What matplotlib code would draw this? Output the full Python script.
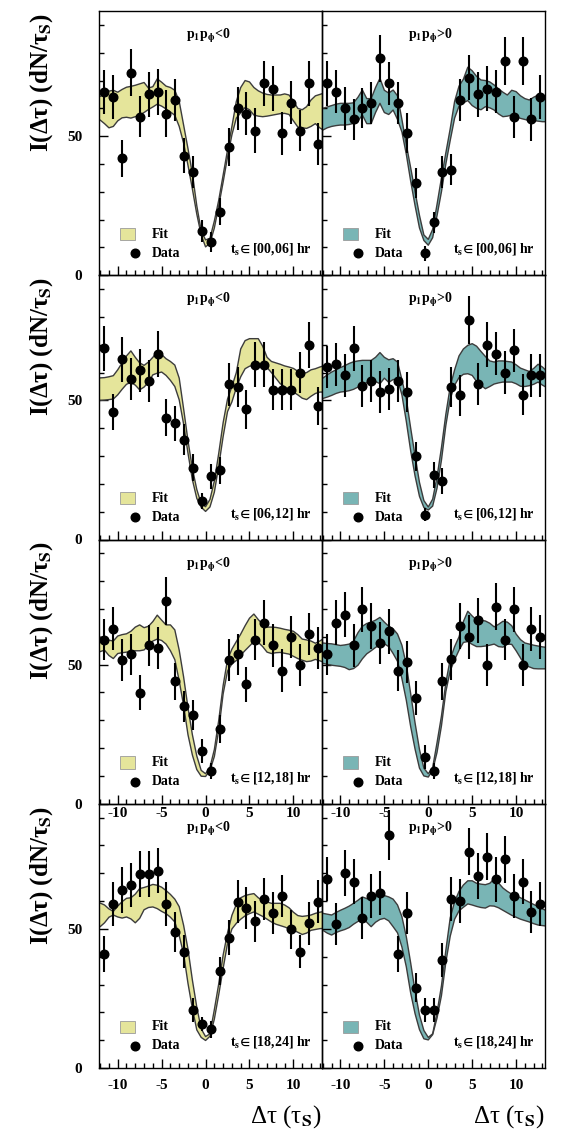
import matplotlib.pyplot as plt
import numpy as np
from matplotlib.patches import Rectangle
from matplotlib.ticker import MultipleLocator

plt.rcParams['font.family'] = ['Liberation Serif', 'DejaVu Serif']
plt.rcParams['font.weight'] = 'bold'
plt.rcParams['mathtext.fontset'] = 'stix'
plt.rcParams['mathtext.default'] = 'bf'
plt.rcParams['axes.unicode_minus'] = False

YELLOW = '#e5e59b'
TEAL = '#79b5b5'
EDGE = '#3c3c3c'

WINDOWS = ['[00,06]', '[06,12]', '[12,18]', '[18,24]']
SIGNS = ['<0', '>0']

# bin centres of the data points
DT = [-11.55, -10.54, -9.52, -8.51, -7.50, -6.49, -5.47, -4.46, -3.45, -2.44,
      -1.42, -0.41, 0.60, 1.61, 2.63, 3.64, 4.65, 5.66, 6.68, 7.69,
      8.70, 9.71, 10.73, 11.74, 12.75]
# abscissa of the fit band, -12.5 .. 13.5 in steps of 0.5
BAND_X = np.arange(-12.5, 13.51, 0.5)

# ---- t_s in [00,06] ----
Y_00_NEG = [66.0, 64.1, 42.0, 72.8, 57.0, 65.0, 66.0, 58.1, 63.0, 43.0, 37.0, 16.0, 12.1,
            22.9, 46.0, 60.0, 58.1, 52.0, 69.0, 67.0, 51.0, 62.0, 52.0, 69.0, 47.1]
E_00_NEG = [7.9, 7.9, 6.5, 8.4, 7.4, 8.1, 8.3, 8.4, 7.6, 6.4, 5.7, 3.9, 3.6,
            4.8, 6.9, 7.7, 7.8, 8.0, 8.1, 8.1, 7.8, 7.7, 7.5, 8.1, 7.5]
UP_00_NEG = [63.8, 64.3, 65.2, 66.2, 66.5, 65.8, 66.8, 67.6, 67.9, 68.3,
             68.8, 69.3, 67.3, 67.8, 70.6, 69.4, 68.0, 67.5, 66.5, 62.5,
             54.0, 45.5, 36.5, 25.0, 16.0, 12.7, 13.3, 19.5, 27.0, 36.0,
             45.0, 53.5, 62.5, 67.5, 70.0, 69.5, 67.5, 66.3, 65.5, 65.0,
             64.8, 64.8, 64.8, 65.2, 64.8, 62.5, 60.0, 59.5, 60.6, 63.0,
             64.5, 65.0, 65.5]
LO_00_NEG = [56.5, 55.8, 54.5, 53.0, 53.5, 55.5, 56.6, 56.8, 56.5, 57.0,
             57.6, 58.5, 59.6, 60.5, 61.5, 60.8, 59.8, 58.7, 57.5, 53.5,
             47.5, 39.5, 31.0, 22.0, 14.5, 10.2, 11.5, 17.0, 25.0, 33.5,
             42.5, 50.5, 56.5, 58.4, 60.3, 59.5, 57.6, 57.2, 57.0, 57.2,
             57.5, 57.8, 58.1, 58.2, 57.8, 55.5, 53.3, 53.0, 52.8, 53.5,
             54.5, 53.0, 52.0]

Y_00_POS = [69.0, 66.0, 60.0, 56.0, 60.0, 62.0, 78.0, 69.0, 62.0, 51.0, 33.0, 7.9, 19.0,
            37.0, 38.0, 63.0, 71.0, 65.0, 67.0, 66.0, 77.0, 57.0, 77.0, 56.0, 64.0]
E_00_POS = [8.1, 7.8, 7.7, 7.5, 7.2, 7.6, 8.5, 7.8, 7.5, 7.2, 5.4, 2.7, 3.9,
            5.7, 5.7, 7.5, 8.1, 8.1, 8.1, 7.8, 8.6, 7.5, 8.6, 7.8, 8.0]
UP_00_POS = [59.8, 60.0, 60.5, 61.0, 61.5, 61.8, 61.8, 61.8, 62.0, 64.0,
             66.6, 63.5, 63.5, 67.5, 70.8, 66.5, 65.5, 66.6, 64.5, 56.0,
             47.0, 38.6, 30.0, 21.5, 14.5, 12.9, 16.5, 25.5, 35.0, 44.0,
             52.7, 62.5, 68.0, 70.5, 74.8, 73.5, 71.5, 70.2, 70.0, 69.5,
             68.4, 67.0, 65.8, 64.8, 66.5, 66.0, 64.5, 63.5, 63.0, 64.0,
             64.8, 64.0, 63.8]
LO_00_POS = [52.0, 52.2, 53.0, 53.5, 53.8, 54.0, 54.0, 54.2, 54.6, 55.5,
             57.6, 54.5, 54.5, 58.5, 61.8, 58.5, 57.8, 59.4, 56.0, 51.5,
             43.5, 33.8, 25.0, 17.0, 12.5, 10.8, 13.5, 21.5, 30.0, 40.0,
             48.5, 56.5, 60.8, 62.0, 62.8, 61.0, 60.0, 59.5, 60.6, 60.2,
             59.4, 58.0, 57.0, 57.2, 57.6, 57.0, 56.4, 56.0, 55.6, 55.6,
             55.4, 55.2, 55.2]

# ---- t_s in [06,12] ----
Y_06_NEG = [68.8, 45.8, 64.8, 57.8, 60.8, 56.9, 66.8, 43.8, 41.8, 35.9, 25.8, 13.8, 22.8,
            24.9, 55.8, 54.8, 46.8, 62.8, 62.8, 53.9, 53.9, 53.9, 60.0, 69.8, 47.9]
E_06_NEG = [8.1, 6.6, 8.1, 7.6, 7.8, 7.5, 8.3, 6.6, 6.3, 5.7, 4.8, 3.0, 4.5,
            4.8, 7.8, 7.2, 6.9, 8.1, 8.1, 7.5, 7.5, 7.5, 7.5, 8.3, 6.9]
UP_06_NEG = [58.0, 58.1, 58.2, 58.5, 58.9, 61.0, 63.5, 66.0, 67.8, 65.5,
             63.5, 62.6, 63.8, 65.5, 67.5, 66.5, 65.0, 64.0, 62.7, 58.0,
             47.0, 35.5, 25.5, 18.0, 12.9, 11.8, 14.4, 21.0, 31.0, 42.0,
             50.5, 55.0, 60.0, 68.5, 71.5, 72.2, 72.2, 72.2, 69.5, 65.5,
             64.0, 63.5, 63.0, 62.4, 62.0, 61.5, 60.5, 59.6, 60.0, 61.0,
             61.4, 62.0, 62.5]
LO_06_NEG = [50.0, 50.0, 50.1, 50.3, 50.5, 52.0, 54.0, 55.8, 56.5, 55.5,
             53.8, 54.8, 56.5, 59.2, 59.8, 60.2, 59.0, 57.2, 55.0, 50.2,
             41.5, 31.0, 21.5, 14.8, 11.6, 10.1, 11.7, 17.0, 26.5, 37.0,
             46.0, 49.5, 54.5, 58.5, 61.4, 62.3, 62.6, 62.6, 62.5, 61.8,
             60.0, 58.0, 56.0, 55.0, 54.0, 53.0, 52.0, 50.8, 50.3, 51.5,
             52.5, 53.0, 53.0]

Y_06_POS = [62.0, 63.0, 59.0, 68.8, 55.1, 57.0, 53.0, 54.0, 57.0, 53.0, 30.0, 8.9, 23.1,
            21.0, 54.8, 51.8, 79.0, 55.8, 70.0, 66.8, 60.0, 68.0, 52.1, 59.0, 59.0]
E_06_POS = [7.5, 7.7, 7.8, 8.1, 7.5, 7.5, 7.5, 7.5, 7.5, 7.2, 5.2, 2.4, 4.6,
            4.8, 7.3, 7.5, 8.7, 7.5, 8.1, 7.8, 7.6, 7.8, 7.5, 7.8, 7.8]
UP_06_POS = [57.0, 58.0, 59.2, 60.2, 61.0, 61.8, 62.5, 63.3, 63.9, 64.2,
             64.4, 64.4, 64.4, 65.5, 67.2, 65.5, 64.6, 65.0, 63.8, 57.5,
             50.5, 40.0, 30.0, 20.5, 14.0, 11.7, 14.5, 22.5, 33.0, 45.0,
             55.0, 61.0, 66.0, 68.5, 69.8, 70.4, 69.5, 67.6, 65.8, 64.2,
             63.8, 64.2, 64.2, 64.0, 63.8, 62.8, 61.6, 61.0, 60.4, 61.5,
             63.0, 62.0, 60.5]
LO_06_POS = [50.2, 50.7, 51.2, 51.8, 52.5, 53.0, 53.2, 53.5, 54.0, 54.8,
             55.6, 56.4, 57.2, 56.8, 56.0, 58.0, 56.5, 57.5, 57.5, 52.0,
             42.5, 31.8, 22.8, 15.5, 11.5, 10.6, 12.0, 18.5, 28.5, 41.0,
             50.5, 55.5, 58.2, 59.4, 59.6, 59.0, 56.8, 55.5, 54.2, 55.0,
             55.9, 56.3, 56.6, 56.6, 56.6, 56.0, 55.1, 55.0, 55.3, 55.8,
             56.6, 55.5, 54.6]

# ---- t_s in [12,18] ----
Y_12_NEG = [59.0, 62.9, 51.8, 53.7, 39.9, 56.9, 56.0, 72.9, 44.0, 35.0, 31.8, 18.9, 11.8,
            26.8, 51.8, 53.7, 42.9, 59.0, 65.0, 56.9, 47.9, 59.9, 50.0, 60.9, 56.0]
E_12_NEG = [7.5, 7.8, 7.5, 7.5, 6.3, 7.5, 7.5, 8.5, 6.6, 5.7, 5.4, 4.4, 2.9,
            5.1, 7.5, 7.5, 6.4, 7.5, 8.1, 7.7, 7.6, 7.6, 7.5, 7.5, 7.5]
UP_12_NEG = [60.0, 59.9, 59.8, 58.8, 58.5, 60.3, 60.8, 61.1, 62.0, 63.5,
             64.3, 63.3, 63.8, 65.5, 67.8, 66.0, 64.3, 64.3, 62.5, 55.2,
             45.6, 34.5, 24.8, 17.2, 12.0, 10.8, 13.1, 19.5, 30.0, 42.5,
             51.8, 55.6, 58.3, 61.0, 64.0, 66.7, 68.2, 66.2, 64.5, 63.5,
             63.5, 63.4, 63.1, 62.7, 62.4, 62.0, 60.8, 59.2, 58.9, 58.5,
             57.7, 58.5, 59.5]
LO_12_NEG = [54.5, 54.7, 55.2, 53.3, 52.2, 54.0, 54.3, 54.5, 54.7, 55.0,
             55.0, 55.3, 56.9, 58.5, 59.2, 58.7, 57.4, 55.0, 51.8, 44.2,
             35.3, 24.8, 17.5, 12.3, 9.9, 9.8, 12.0, 17.0, 26.5, 39.5,
             47.7, 50.3, 51.5, 53.4, 55.1, 56.7, 58.3, 58.0, 56.5, 54.5,
             54.0, 54.3, 54.4, 54.1, 53.8, 53.0, 52.2, 51.6, 51.1, 51.3,
             51.9, 51.4, 50.8]

Y_12_POS = [53.7, 65.0, 68.0, 56.9, 69.9, 63.9, 57.9, 62.0, 47.9, 50.9, 38.0, 16.8, 11.8,
            44.0, 51.9, 63.9, 59.9, 65.9, 50.0, 70.9, 59.0, 69.9, 50.0, 62.9, 59.9]
E_12_POS = [7.5, 8.1, 8.1, 7.6, 8.1, 8.1, 7.5, 8.1, 7.2, 7.5, 6.0, 4.2, 2.9,
            6.6, 7.5, 8.1, 7.8, 8.1, 7.5, 8.4, 7.5, 8.1, 7.5, 7.9, 7.8]
UP_12_POS = [58.0, 57.8, 57.6, 57.5, 57.2, 56.9, 57.1, 57.4, 58.5, 61.5,
             63.8, 64.8, 65.3, 66.0, 67.0, 65.3, 63.8, 62.9, 61.0, 57.0,
             50.0, 39.5, 29.0, 19.5, 12.8, 10.8, 13.0, 22.0, 31.5, 43.5,
             52.0, 56.5, 60.0, 65.5, 69.2, 67.5, 66.0, 66.0, 65.7, 64.9,
             63.6, 64.5, 65.6, 65.3, 64.0, 61.0, 59.0, 57.8, 57.4, 57.0,
             56.7, 56.4, 56.2]
LO_12_POS = [50.8, 50.5, 50.1, 49.8, 49.6, 49.4, 49.0, 48.2, 48.6, 49.8,
             52.1, 53.9, 55.0, 56.2, 57.1, 57.5, 56.5, 54.0, 51.2, 45.0,
             37.2, 27.7, 19.6, 12.8, 10.0, 9.6, 12.0, 18.5, 28.0, 40.3,
             47.8, 51.8, 55.2, 58.0, 58.3, 57.3, 56.5, 56.5, 56.7, 57.0,
             57.4, 56.5, 56.3, 57.4, 57.3, 55.0, 52.4, 49.8, 49.2, 48.6,
             48.5, 48.5, 48.5]

# ---- t_s in [18,24] ----
Y_18_NEG = [40.9, 59.0, 64.0, 65.8, 69.7, 69.7, 70.9, 59.0, 48.8, 41.8, 20.9, 15.8, 13.9,
            34.9, 46.9, 59.8, 57.6, 52.8, 60.8, 55.8, 61.8, 49.8, 41.8, 52.0, 59.8]
E_18_NEG = [6.5, 7.8, 8.1, 7.8, 8.3, 8.3, 8.1, 8.0, 7.2, 6.0, 4.2, 2.6, 3.0,
            5.1, 6.3, 7.8, 7.5, 7.4, 7.5, 7.5, 7.5, 7.1, 6.0, 7.8, 7.8]
UP_18_NEG = [59.8, 59.3, 58.6, 57.2, 56.3, 58.2, 59.8, 61.0, 61.2, 62.5,
             64.5, 64.9, 65.4, 66.0, 65.7, 65.0, 63.8, 62.4, 60.7, 58.0,
             51.3, 42.7, 31.6, 21.9, 14.1, 11.3, 12.3, 21.0, 30.3, 40.6,
             48.6, 54.9, 58.8, 61.2, 62.0, 62.4, 62.7, 61.2, 60.2, 59.7,
             59.2, 59.2, 59.2, 58.6, 57.6, 56.0, 54.8, 54.5, 54.7, 55.0,
             55.6, 56.0, 56.3]
LO_18_NEG = [50.5, 50.8, 52.2, 54.2, 55.0, 54.3, 53.9, 54.3, 53.6, 52.2,
             53.8, 56.9, 57.7, 57.9, 57.3, 56.3, 55.5, 54.2, 52.5, 47.6,
             41.0, 30.4, 21.4, 13.7, 11.0, 9.9, 11.4, 17.6, 26.4, 35.8,
             44.8, 50.0, 52.0, 53.5, 54.7, 55.5, 56.1, 55.3, 54.5, 53.5,
             52.5, 51.7, 51.2, 50.7, 50.1, 49.6, 48.8, 48.0, 48.5, 49.5,
             49.8, 50.1, 50.2]

Y_18_POS = [67.9, 51.8, 70.0, 67.0, 54.0, 61.8, 63.0, 83.8, 41.0, 55.8, 28.9, 20.9, 20.9,
            38.8, 60.8, 60.0, 77.8, 69.0, 76.0, 67.9, 75.0, 61.8, 67.0, 56.0, 59.0]
E_18_POS = [8.0, 7.5, 8.3, 8.0, 7.5, 8.0, 8.0, 9.1, 6.4, 7.5, 5.1, 4.2, 4.2,
            6.0, 7.8, 7.8, 8.4, 8.2, 8.4, 8.1, 8.5, 8.0, 8.0, 7.5, 7.9]
UP_18_POS = [55.8, 55.6, 55.3, 55.0, 55.9, 56.7, 57.4, 58.2, 59.2, 60.3,
             61.5, 60.9, 60.7, 61.7, 62.2, 62.0, 61.5, 60.7, 58.6, 54.4,
             47.2, 37.7, 27.6, 19.0, 13.5, 11.0, 12.3, 20.0, 29.5, 42.3,
             54.0, 59.8, 63.5, 65.8, 67.3, 67.3, 66.4, 66.1, 65.9, 66.4,
             68.0, 66.5, 64.7, 63.5, 62.5, 61.9, 61.2, 60.4, 59.6, 58.8,
             58.0, 57.2, 56.5]
LO_18_POS = [50.0, 49.5, 48.5, 47.8, 48.7, 49.3, 49.8, 50.5, 51.7, 52.7,
             53.7, 52.4, 50.8, 52.4, 53.4, 53.8, 52.9, 50.8, 48.6, 43.5,
             36.4, 26.9, 19.5, 13.8, 10.5, 10.1, 12.0, 18.0, 26.0, 38.0,
             47.4, 53.5, 56.5, 57.8, 59.0, 58.6, 58.1, 57.7, 57.5, 58.3,
             58.2, 57.6, 56.7, 55.8, 54.9, 54.2, 53.5, 53.0, 52.5, 51.9,
             51.4, 51.2, 51.0]

PANELS = [
    [(Y_00_NEG, E_00_NEG, UP_00_NEG, LO_00_NEG), (Y_00_POS, E_00_POS, UP_00_POS, LO_00_POS)],
    [(Y_06_NEG, E_06_NEG, UP_06_NEG, LO_06_NEG), (Y_06_POS, E_06_POS, UP_06_POS, LO_06_POS)],
    [(Y_12_NEG, E_12_NEG, UP_12_NEG, LO_12_NEG), (Y_12_POS, E_12_POS, UP_12_POS, LO_12_POS)],
    [(Y_18_NEG, E_18_NEG, UP_18_NEG, LO_18_NEG), (Y_18_POS, E_18_POS, UP_18_POS, LO_18_POS)],
]
FILLS = [YELLOW, TEAL]


def draw_panel(ax, y, err, up, lo, fill):
    ax.fill_between(BAND_X, lo, up, facecolor=fill, edgecolor='none', zorder=1)
    ax.plot(BAND_X, up, color=EDGE, lw=1.0, zorder=2)
    ax.plot(BAND_X, lo, color=EDGE, lw=1.0, zorder=2)
    ax.errorbar(DT, y, yerr=err, fmt='o', color='black', ms=6.2,
                elinewidth=1.5, capsize=0, zorder=3)


def decorate(ax, fill, sign, window):
    ax.text(0.49, 0.905, r'p$_{1}$p$_{\phi}$' + sign, transform=ax.transAxes,
            ha='center', va='center', fontsize=10)
    ax.add_patch(Rectangle((0.094, 0.133), 0.068, 0.046, transform=ax.transAxes,
                           facecolor=fill, edgecolor='#9a9a9a', lw=0.6))
    ax.text(0.238, 0.156, 'Fit', transform=ax.transAxes, ha='left', va='center', fontsize=10)
    ax.plot([0.162], [0.084], 'o', color='black', ms=6.2, transform=ax.transAxes)
    ax.text(0.238, 0.084, 'Data', transform=ax.transAxes, ha='left', va='center', fontsize=10)
    ax.text(0.955, 0.098, r't$_{s}\!\in$' + window + ' hr', transform=ax.transAxes,
            ha='right', va='center', fontsize=10)


fig = plt.figure(figsize=(5.67, 11.34), dpi=100)
col_left = [99 / 567, 321.7 / 567]
col_w = 222.8 / 567
row_h = 264.25 / 1134

for r in range(4):
    for c in range(2):
        bottom = 1 - (11 + 264.25 * (r + 1)) / 1134
        ax = fig.add_axes([col_left[c], bottom, col_w, row_h])
        ax.set_facecolor('none')
        y, err, up, lo = PANELS[r][c]
        draw_panel(ax, y, err, up, lo, FILLS[c])
        decorate(ax, FILLS[c], SIGNS[c], WINDOWS[r])

        ax.set_xlim(-12.13, 13.23)
        ax.set_ylim(0, 95)
        ax.xaxis.set_major_locator(MultipleLocator(5))
        ax.xaxis.set_minor_locator(MultipleLocator(1))
        ax.yaxis.set_major_locator(MultipleLocator(50))
        ax.yaxis.set_minor_locator(MultipleLocator(10))
        ax.tick_params(which='both', direction='in', top=False, right=False,
                       width=1.0, labelsize=11)
        ax.tick_params(which='major', length=6.5)
        ax.tick_params(which='minor', length=3.5)
        ax.tick_params(axis='y', pad=12)
        for sp in ax.spines.values():
            sp.set_linewidth(1.0)

        if c == 1:
            ax.tick_params(labelleft=False)
        else:
            ax.text(-0.256, 0.73, r'I(Δτ) (dN/τ$_{S}$)', transform=ax.transAxes,
                    rotation=90, ha='center', va='center', fontsize=18)
        if r < 2:
            ax.tick_params(labelbottom=False)
        elif r == 2:
            ax.tick_params(axis='x', pad=2)
        else:
            ax.tick_params(axis='x', pad=8)
            ax.text(1.0, -0.182, r'Δτ (τ$_{\mathrm{S}}$)', transform=ax.transAxes,
                    ha='right', va='center', fontsize=18, fontweight='normal')

fig.savefig('out.png', dpi=100)
